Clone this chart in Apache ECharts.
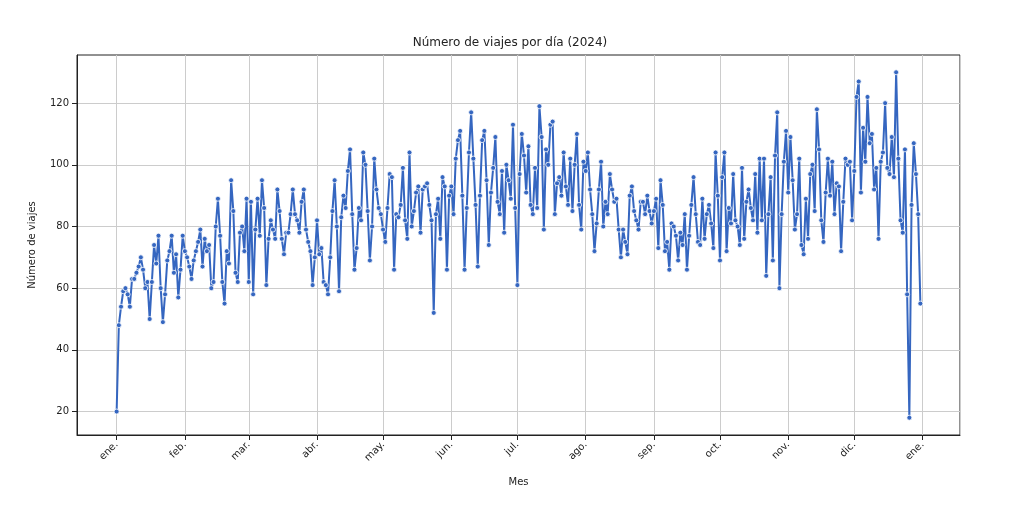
<!DOCTYPE html>
<html><head><meta charset="utf-8">
<script src="https://cdn.jsdelivr.net/npm/echarts@6/dist/echarts.min.js"></script>
<style>body{margin:0;background:#fff}#c{width:1020px;height:512px}</style>
</head><body><div id="c"></div>
<script>
const monthLabels = ['ene.','feb.','mar.','abr.','may.','jun.','jul.','ago.','sep.','oct.','nov.','dic.'];
const yTicks = [20,40,60,80,100,120];
const jan = [20,48,54,59,60,58,54,63,63,65,67,70,66,60,62,50,62,74,68,77,60,49,58,69,72,77,65,71,57,66,77];
const feb = [72,70,67,63,69,72,75,79,67,76,72,74,60,62,80,89,77,62,55,72,68,95,85,65,62,78,80,72,89];
const mar = [62,88,58,79,89,77,95,86,61,76,82,79,76,92,85,76,71,78,78,84,92,84,82,78,88,92,79,75,72,61,70];
const apr = [82,71,73,62,61,58,70,85,95,80,59,83,90,86,98,105,84,66,73,86,82,104,100,85,69,80,102,92,86,84];
const may = [79,75,86,97,96,66,84,83,87,99,82,76,104,80,85,91,93,78,92,93,94,87,82,52,84,89,76,96,93,66,90];
const jun = [93,84,102,108,111,90,66,86,104,117,102,87,67,90,108,111,95,74,91,99,109,88,84,98,78,100,95,89,113,86];
const jul = [61,97,110,103,91,106,87,84,99,86,119,109,79,105,100,113,114,84,94,96,90,104,93,87,102,85,100,110,87,79,101];
const aug = [98,104,92,84,72,81,92,101,80,88,84,97,92,88,89,79,70,79,75,71,90,93,85,82,79,88,88,84,90,85,81];
const sep = [85,89,73,95,87,72,75,66,81,80,77,69,78,74,84,66,77,87,96,84,75,74,89,76,84,87,81,73,104,90];
const oct = [69,96,104,72,86,81,97,82,80,74,99,76,88,92,86,82,97,78,102,82,102,64,84,96,69,103,117,60,84,101,111];
const nov = [91,109,95,79,84,102,74,71,89,76,97,100,85,118,105,82,75,91,102,90,101,84,94,93,72,88,102,100,101,82];
const dec = [98,122,127,91,112,101,122,107,110,92,99,76,101,104,120,99,97,109,96,130,102,82,78,105,58,18,87,107,97,84,55];
const months = [jan,feb,mar,apr,may,jun,jul,aug,sep,oct,nov,dec];
const data = [];
months.forEach((arr,m)=>arr.forEach((v,i)=>data.push([new Date(2024,m,i+1).getTime(), v])));
const chart = echarts.init(document.getElementById('c'));
chart.setOption({
  animation:false,
  title:{text:'Número de viajes por día (2024)',left:'center',top:32,textStyle:{fontSize:12,fontWeight:'normal',color:'#222',fontFamily:'DejaVu Sans'}},
  grid:{left:77,right:60,top:55,bottom:77,show:true,borderColor:'#222',borderWidth:1},
  xAxis:{type:'time',min:new Date(2023,11,14).getTime(),max:new Date(2025,0,18).getTime(),
    name:'Mes',nameLocation:'middle',nameGap:42,nameTextStyle:{fontSize:10,color:'#222',fontFamily:'DejaVu Sans'},
    splitNumber:13,
    axisLine:{lineStyle:{color:'#222'}},axisTick:{show:true,lineStyle:{color:'#222'}},
    axisLabel:{rotate:45,fontSize:10,color:'#222',fontFamily:'DejaVu Sans',hideOverlap:false,
      formatter:v=>monthLabels[new Date(v).getMonth()]},
    splitLine:{show:true,lineStyle:{color:'#ccc'}}},
  yAxis:{type:'value',min:12.4,max:135.6,
    name:'Número de viajes',nameLocation:'middle',nameGap:40,nameTextStyle:{fontSize:10,color:'#222',fontFamily:'DejaVu Sans'},
    axisLine:{show:true,lineStyle:{color:'#222'}},
    axisTick:{show:true,customValues:yTicks,lineStyle:{color:'#222'}},
    axisLabel:{fontSize:10,color:'#222',fontFamily:'DejaVu Sans',customValues:yTicks},
    splitLine:{show:true,lineStyle:{color:'#ccc'}}},
  series:[{type:'line',data:data,symbol:'circle',symbolSize:5,
    lineStyle:{color:'#3566c0',width:2},itemStyle:{color:'#3566c0',borderColor:'#fff',borderWidth:0.8}}]
});
</script></body></html>
